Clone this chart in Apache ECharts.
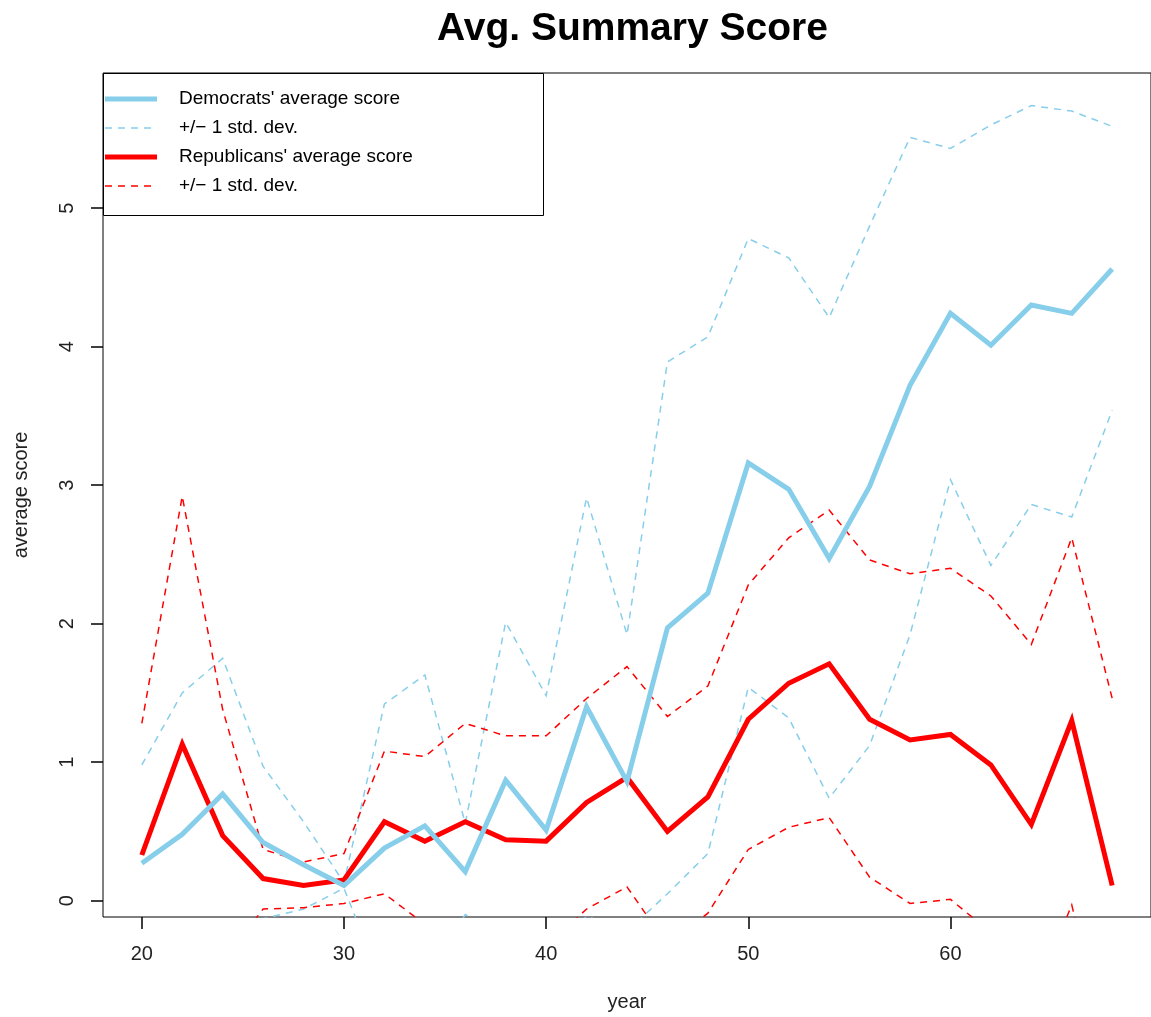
<!DOCTYPE html>
<html>
<head>
<meta charset="utf-8">
<script src="https://cdn.jsdelivr.net/npm/echarts@6/dist/echarts.min.js"></script>
<style>
html,body{margin:0;padding:0;background:#fff;}
#chart{width:1151px;height:1017px;}
</style>
</head>
<body>
<div id="chart"></div>
<script>
// ---- data ----
const years = [20,22,24,26,28,30,32,34,36,38,40,42,44,46,48,50,52,54,56,58,60,62,64,66,68];

const demAvg   = [0.27,0.48,0.77,0.42,0.26,0.11,0.38,0.54,0.21,0.87,0.51,1.40,0.86,1.97,2.22,3.16,2.97,2.47,2.99,3.72,4.24,4.01,4.30,4.24,4.56];
const demUpper = [0.98,1.50,1.75,0.97,0.57,0.13,1.42,1.63,0.56,2.01,1.48,2.91,1.92,3.89,4.07,4.78,4.64,4.21,4.87,5.51,5.43,5.60,5.74,5.70,5.59];
const demLower = [-0.44,-0.54,-0.21,-0.13,-0.06,0.09,-0.65,-0.54,-0.10,-0.27,-0.47,-0.11,-0.22,0.05,0.34,1.54,1.32,0.74,1.12,1.92,3.04,2.42,2.86,2.77,3.54];

const repAvg   = [0.33,1.13,0.47,0.16,0.11,0.15,0.57,0.43,0.57,0.44,0.43,0.71,0.89,0.50,0.75,1.31,1.57,1.71,1.31,1.16,1.20,0.98,0.55,1.30,0.11];
const repUpper = [1.28,2.92,1.38,0.37,0.28,0.34,1.08,1.04,1.28,1.19,1.19,1.46,1.69,1.33,1.55,2.28,2.62,2.82,2.46,2.36,2.40,2.20,1.85,2.62,1.46];
const repLower = [-0.61,-0.66,-0.44,-0.06,-0.05,-0.02,0.05,-0.17,-0.15,-0.30,-0.33,-0.06,0.10,-0.32,-0.09,0.37,0.53,0.60,0.17,-0.02,0.01,-0.23,-0.75,-0.03,-1.25];

const xTicks = [20,30,40,50,60];
const yTicks = [0,1,2,3,4,5];

const titleText = 'Avg. Summary Score';
const xName = 'year';
const yName = 'average score';
const legendLabels = ["Democrats' average score", '+/\u2212 1 std. dev.', "Republicans' average score", '+/\u2212 1 std. dev.'];

// ---- styling ----
const BLUE = '#87CEEB';
const RED = '#FF0000';
const FONT = '"Liberation Sans", Arial, Helvetica, sans-serif';
const pair = (arr) => years.map((y, i) => [y, arr[i]]);

function lineSeries(name, arr, color, width, dashed, z) {
  return {
    type: 'line', name: name, data: pair(arr),
    symbol: 'none', clip: true, z: z, silent: true, animation: false,
    lineStyle: { color: color, width: width, type: dashed ? [7, 6] : 'solid', cap: 'butt', join: 'miter' }
  };
}

const chart = echarts.init(document.getElementById('chart'), null, { renderer: 'canvas' });

const legendX0 = 103, legendY0 = 73, legendW = 440, legendH = 142;
const rowY = [99, 128, 157, 186];
const legendStyles = [
  { color: BLUE, w: 5, dash: null },
  { color: BLUE, w: 1.5, dash: [7, 6] },
  { color: RED, w: 5, dash: null },
  { color: RED, w: 1.5, dash: [7, 6] }
];
const legendGraphics = [{
  type: 'rect', shape: { x: legendX0 + 0.5, y: legendY0 + 0.5, width: legendW, height: legendH },
  style: { fill: '#fff', stroke: '#000', lineWidth: 1 }, z: 100
}];
legendStyles.forEach((s, i) => {
  legendGraphics.push({
    type: 'line', shape: { x1: 105, y1: rowY[i], x2: 157, y2: rowY[i] },
    style: { stroke: s.color, lineWidth: s.w, lineDash: s.dash }, z: 101
  });
  legendGraphics.push({
    type: 'text', x: 179, y: rowY[i],
    style: { text: legendLabels[i], font: '19px ' + FONT, fill: '#000', textVerticalAlign: 'middle', textAlign: 'left' },
    z: 101
  });
});

chart.setOption({
  animation: false,
  backgroundColor: '#fff',
  title: {
    text: titleText, left: 432, top: 5,
    textStyle: { fontFamily: FONT, fontSize: 39, fontWeight: 'bold', color: '#000' }
  },
  grid: {
    left: 103, top: 73, width: 1049, height: 845,
    show: true, borderColor: '#000', borderWidth: 1, backgroundColor: 'transparent',
    containLabel: false
  },
  xAxis: {
    type: 'value', min: 18.08, max: 69.92,
    name: xName, nameLocation: 'middle', nameGap: 75,
    nameTextStyle: { fontFamily: FONT, fontSize: 20, color: '#222' },
    axisLine: { show: false, onZero: false },
    axisTick: { show: true, inside: false, length: 12, customValues: xTicks, lineStyle: { color: '#000', width: 1.5 } },
    axisLabel: { show: true, customValues: xTicks, margin: 27, fontFamily: FONT, fontSize: 20, color: '#222' },
    splitLine: { show: false }
  },
  yAxis: {
    type: 'value', min: -0.1175, max: 5.975,
    name: yName, nameLocation: 'middle', nameGap: 72, nameRotate: 90,
    nameTextStyle: { fontFamily: FONT, fontSize: 20, color: '#222' },
    axisLine: { show: false, onZero: false },
    axisTick: { show: true, inside: false, length: 12, customValues: yTicks, lineStyle: { color: '#000', width: 1.5 } },
    axisLabel: { show: true, customValues: yTicks, rotate: 90, margin: 26, fontFamily: FONT, fontSize: 20, color: '#222' },
    splitLine: { show: false }
  },
  series: [
    lineSeries('demUpper', demUpper, BLUE, 1.5, true, 2),
    lineSeries('demLower', demLower, BLUE, 1.5, true, 2),
    lineSeries('repUpper', repUpper, RED, 1.5, true, 2),
    lineSeries('repLower', repLower, RED, 1.5, true, 2),
    lineSeries("Republicans' average score", repAvg, RED, 5, false, 3),
    lineSeries("Democrats' average score", demAvg, BLUE, 5, false, 4)
  ],
  graphic: legendGraphics
});
</script>
</body>
</html>
